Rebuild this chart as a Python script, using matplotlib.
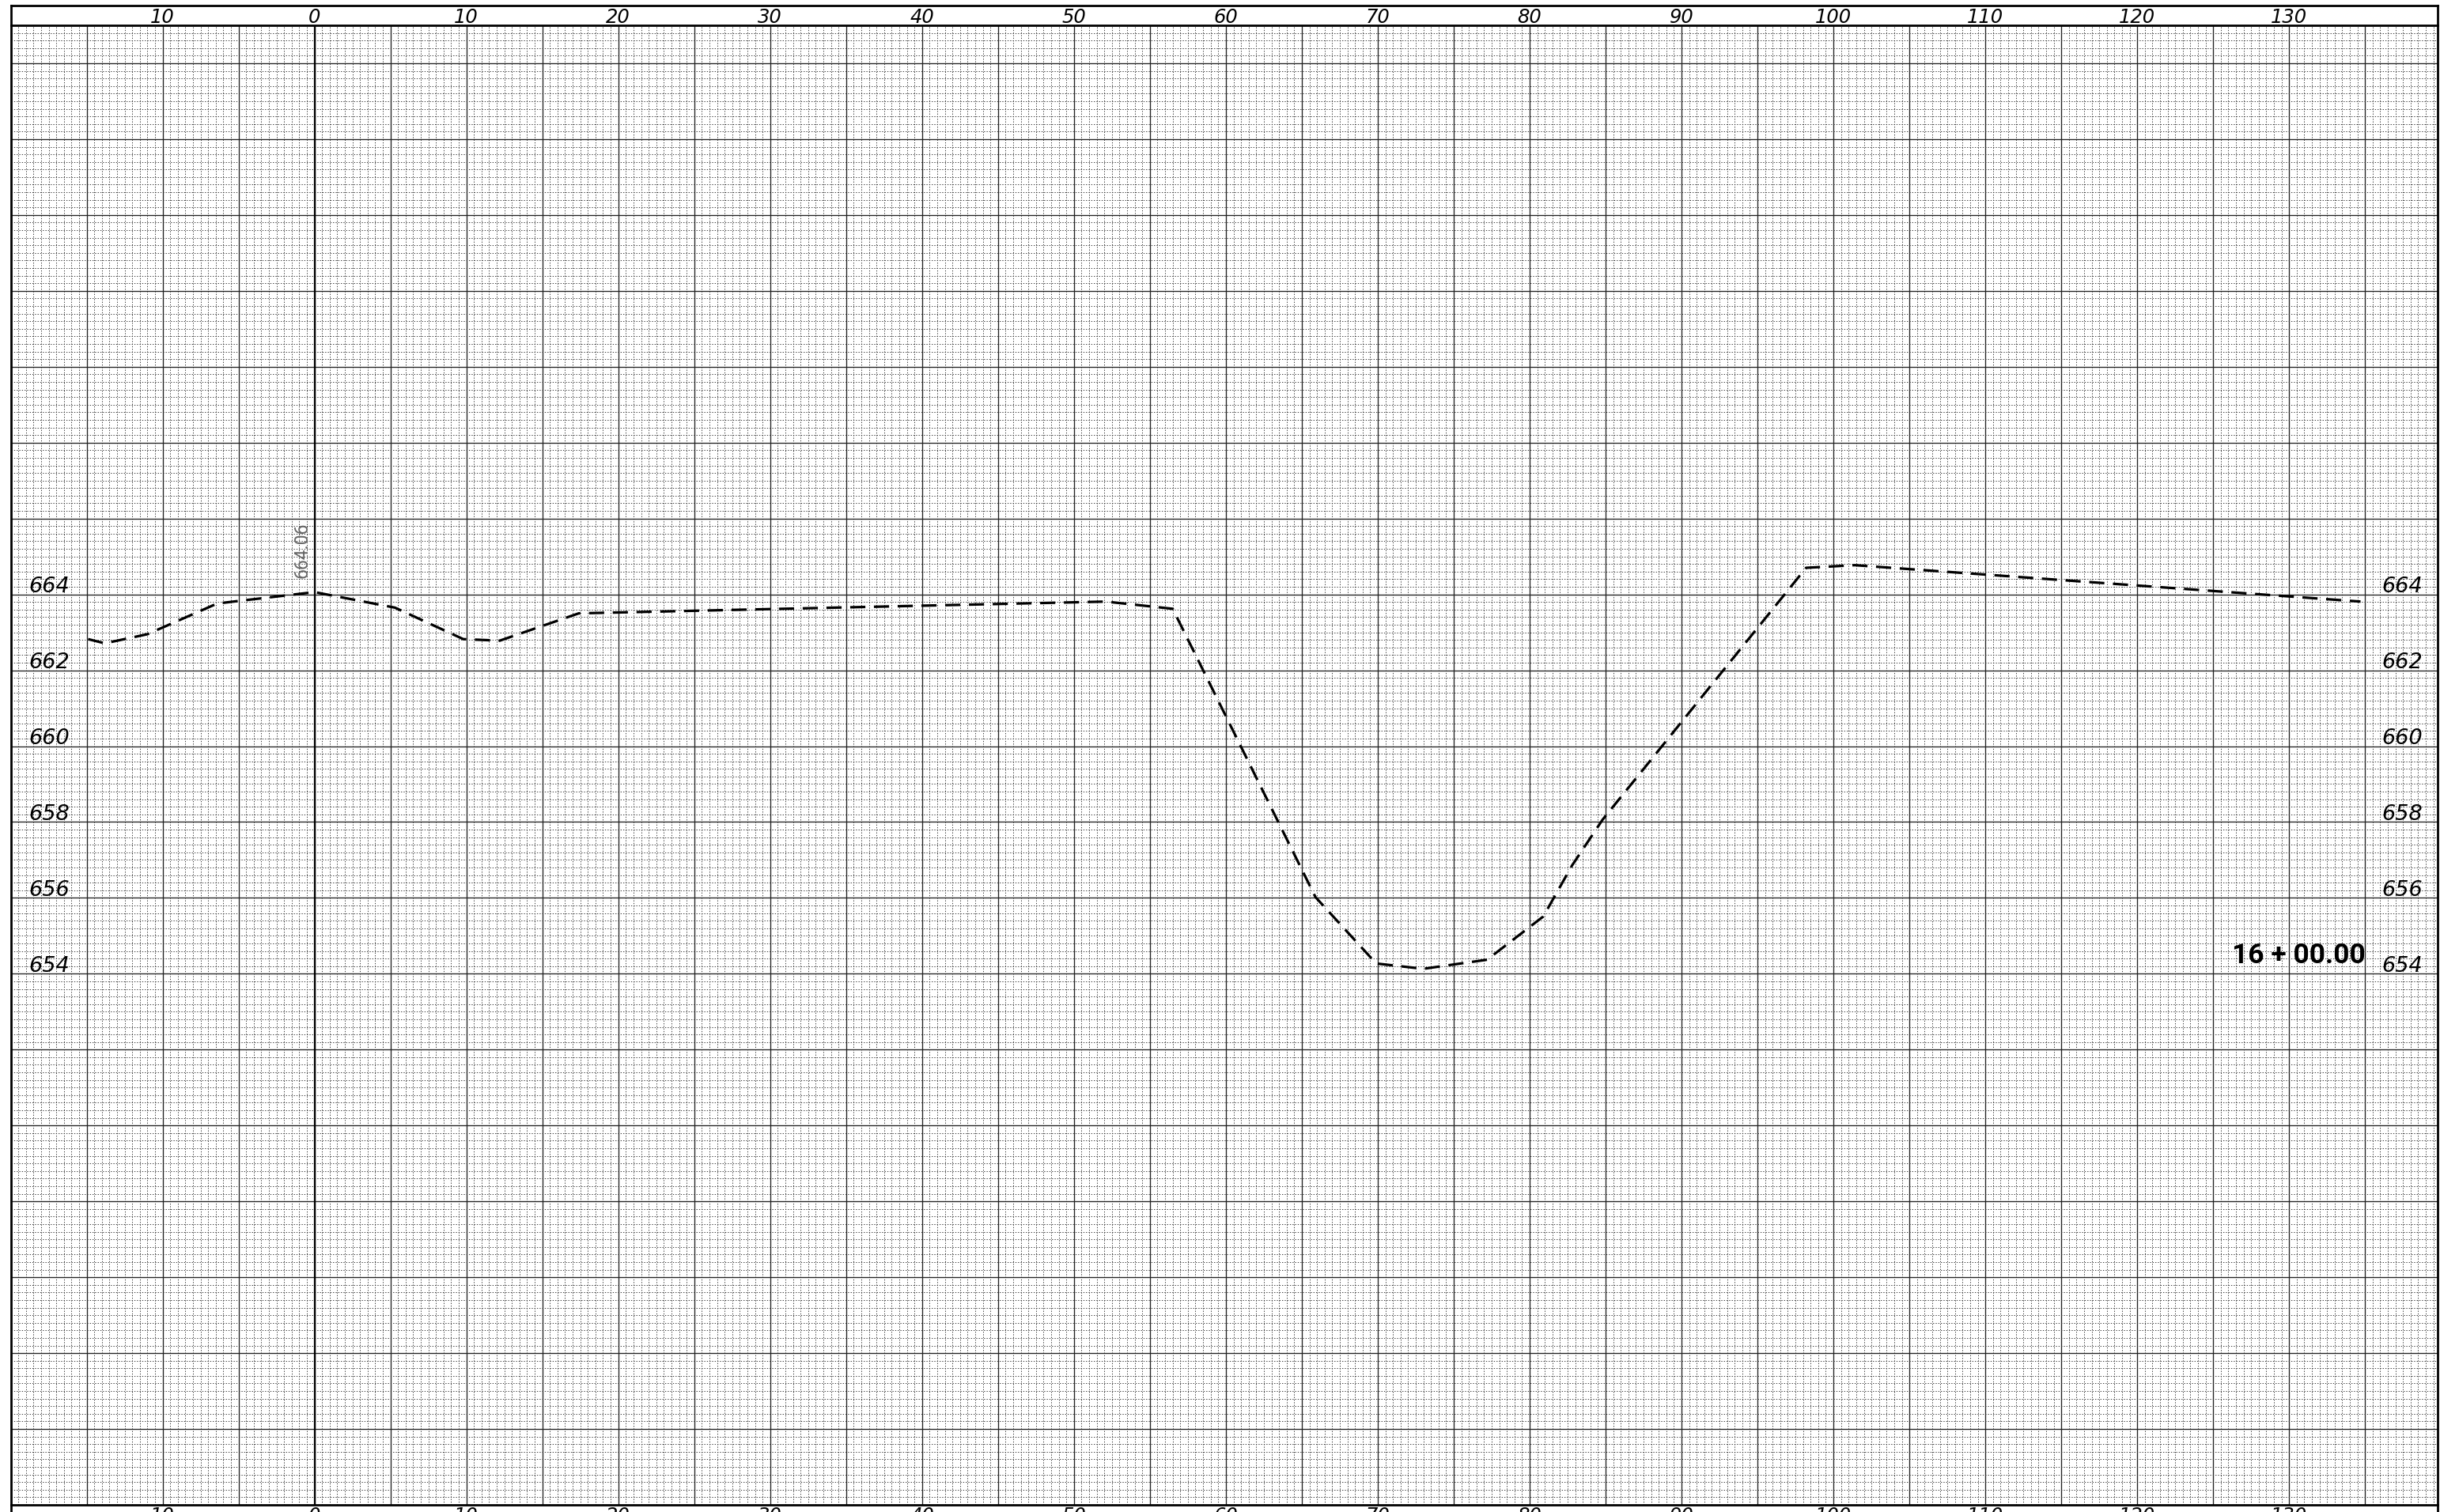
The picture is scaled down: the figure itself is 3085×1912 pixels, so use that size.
import matplotlib
matplotlib.use('Agg')
import matplotlib.pyplot as plt
from matplotlib.lines import Line2D
from matplotlib.ticker import MultipleLocator
from matplotlib.transforms import blended_transform_factory

# ground profile: offset from centerline vs elevation
offsets = [-14.9, -13.8, -11.0, -6.4, 0.0, 5.3, 9.8, 12.2, 17.4, 52.1, 56.5,
           65.9, 69.9, 73.0, 77.2, 80.9, 82.8, 84.8, 98.2, 101.4, 134.7]
elevations = [662.82, 662.71, 662.95, 663.76, 664.06, 663.65, 662.82, 662.78,
              663.50, 663.81, 663.62, 656.02, 654.27, 654.13, 654.37, 655.51,
              656.86, 658.06, 664.70, 664.77, 663.81]

offset_ticks = [-10, 0, 10, 20, 30, 40, 50, 60, 70, 80, 90, 100, 110, 120, 130]
offset_labels = ['10', '0', '10', '20', '30', '40', '50', '60', '70', '80',
                 '90', '100', '110', '120', '130']
elev_ticks = [654, 656, 658, 660, 662, 664]
elev_labels = ['654', '656', '658', '660', '662', '664']

station = '16 + 00.00'
center_label = '664.06'

W, H = 3085, 1912
fig = plt.figure(figsize=(W / 100, H / 100), dpi=100)
fig.patch.set_facecolor('white')

left, right, top, bottom = 13.5, 3082, 32, 1903
ax = fig.add_axes([left / W, 1 - bottom / H, (right - left) / W, (bottom - top) / H])
ax.set_xlim(-20, -20 + (right - left) / 19.205)
ax.set_ylim(640, 679)

# grid paper
ax.xaxis.set_major_locator(MultipleLocator(5))
ax.xaxis.set_minor_locator(MultipleLocator(0.5))
ax.yaxis.set_major_locator(MultipleLocator(2))
ax.yaxis.set_minor_locator(MultipleLocator(0.2))
ax.grid(which='minor', color='#3c3c3c', lw=0.7, linestyle=(0, (1.4, 2.0)))
ax.grid(which='major', color='#222222', lw=0.95, linestyle='-')
ax.tick_params(which='both', length=0, labelbottom=False, labelleft=False)
ax.set_axisbelow(True)
for sp in ax.spines.values():
    sp.set_linewidth(2.0)
    sp.set_color('black')
ax.axvline(0, color='black', lw=1.6, zorder=1.5)

# ground line
ax.plot(offsets, elevations, color='black', lw=2.3,
        linestyle=(0, (6, 3.4)), zorder=3)

label_font = dict(family='DejaVu Sans', style='italic', fontsize=19.5, color='black')
for v, lab in zip(elev_ticks, elev_labels):
    ax.text(-18.8, v + 0.05, lab, ha='left', va='baseline', **label_font)
    ax.text(136.1, v + 0.05, lab, ha='left', va='baseline', **label_font)

ax.text(-0.2, 664.42, center_label, rotation=90, ha='right', va='bottom',
        family=['Roboto', 'DejaVu Sans'], fontsize=16.5, color='#666666')
ax.text(135.0, 654.27, station, ha='right', va='baseline',
        family=['Roboto', 'DejaVu Sans'], fontweight='bold',
        fontsize=25.5, color='black')

# offset labels in bands above and below
trans = blended_transform_factory(ax.transData, fig.transFigure)
for t, lab in zip(offset_ticks, offset_labels):
    ax.text(t, 1 - 29 / H, lab, transform=trans, ha='center', va='baseline',
            clip_on=False, family='DejaVu Sans', style='italic', fontsize=17.5)
    ax.text(t, 1 - 1924 / H, lab, transform=trans, ha='center', va='baseline',
            clip_on=False, family='DejaVu Sans', style='italic', fontsize=17.5)

# frame of the label bands
band = dict(transform=fig.transFigure, color='black', lw=2.0)
fig.add_artist(Line2D([left / W, right / W], [1 - 7 / H, 1 - 7 / H], **band))
fig.add_artist(Line2D([left / W, left / W], [1 - 7 / H, 1 - top / H], **band))
fig.add_artist(Line2D([right / W, right / W], [1 - 7 / H, 1 - top / H], **band))
fig.add_artist(Line2D([left / W, left / W], [0, 1 - bottom / H], **band))
fig.add_artist(Line2D([right / W, right / W], [0, 1 - bottom / H], **band))

fig.savefig('out.png', dpi=100)
